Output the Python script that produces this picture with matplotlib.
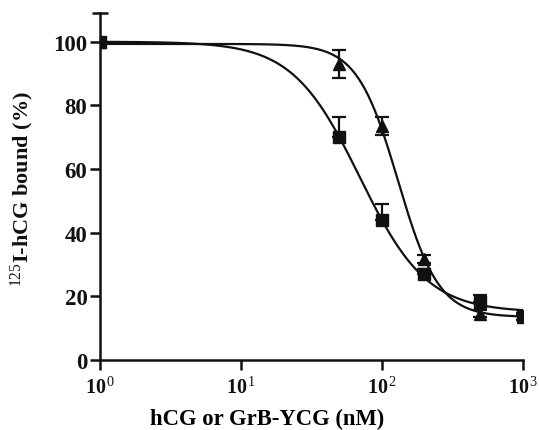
import numpy as np
import matplotlib
matplotlib.use("Agg")
import matplotlib.pyplot as plt
from matplotlib.ticker import FixedLocator, NullFormatter

plt.rcParams['font.family'] = ['Liberation Serif', 'DejaVu Serif']
plt.rcParams['mathtext.fontset'] = 'custom'
plt.rcParams['mathtext.rm'] = 'Liberation Serif'
plt.rcParams['mathtext.bf'] = 'Liberation Serif:bold'
plt.rcParams['mathtext.it'] = 'Liberation Serif:italic'

# concentrations (nM)
conc = [1, 50, 100, 200, 500, 1000]
# hCG (squares)
sq_vals = [100, 70, 44, 27, 18.3, 13.9]
sq_err = [0, 6.3, 5.0, 1.5, 2.2, 1.0]
# GrB-YCG (triangles)
tri_vals = [100, 93, 73.5, 31.7, 14.6, 13.5]
tri_err = [0, 4.5, 2.8, 1.2, 1.0, 0.8]

# four-parameter logistic fit parameters
sq_fit = dict(top=100.0, bottom=15.0, ic50=69.6, hill=1.82)
tri_fit = dict(top=99.3, bottom=13.5, ic50=130.0, hill=3.0)

xticks = [1, 10, 100, 1000]
xticklabels = [r'$\mathbf{10}^{\,0}$', r'$\mathbf{10}^{\,1}$', r'$\mathbf{10}^{\,2}$', r'$\mathbf{10}^{\,3}$']
yticks = [0, 20, 40, 60, 80, 100]


def logistic(x, top, bottom, ic50, hill):
    return bottom + (top - bottom) / (1 + (x / ic50) ** hill)


fig = plt.figure(figsize=(5.39, 4.31), dpi=100)
ax = fig.add_axes([0.1855, 0.1624, 0.7845, 0.805])

xs = np.logspace(0, 3, 400)
ax.plot(xs, logistic(xs, **sq_fit), color='#111111', lw=1.6, zorder=2)
ax.plot(xs, logistic(xs, **tri_fit), color='#111111', lw=1.6, zorder=2)

ax.errorbar(conc, sq_vals, yerr=[np.zeros(len(sq_err)), sq_err], fmt='s', color='#111111',
            ms=8, capsize=5, capthick=1.6, elinewidth=1.6, zorder=3)
ax.errorbar(conc, tri_vals, yerr=tri_err, fmt='^', color='#111111',
            ms=8.5, capsize=5, capthick=1.6, elinewidth=1.6, zorder=3)

ax.set_xscale('log')
ax.set_xlim(1, 1000)
ax.set_ylim(0, 109)
ax.set_xticks(xticks)
ax.set_xticklabels(xticklabels)
ax.xaxis.set_minor_locator(FixedLocator([]))
ax.set_yticks(yticks)
ax.set_yticklabels([str(v) for v in yticks], fontweight='bold')
ax.yaxis.set_minor_locator(FixedLocator([109]))
ax.yaxis.set_minor_formatter(NullFormatter())

for s in ['top', 'right']:
    ax.spines[s].set_visible(False)
for s in ['left', 'bottom']:
    ax.spines[s].set_linewidth(1.8)
    ax.spines[s].set_color('#111111')

ax.tick_params(axis='both', which='major', direction='out', length=7, width=1.8,
               colors='#111111')
ax.tick_params(axis='y', which='major', labelsize=16.5, pad=2)
ax.tick_params(axis='y', which='minor', direction='inout', length=12, width=1.8, color='#111111')
ax.tick_params(axis='x', which='major', labelsize=14.5, pad=5)

ax.set_xlabel('hCG or GrB-YCG (nM)', fontsize=16.3, fontweight='bold')
ax.xaxis.set_label_coords(0.395, -0.138)
fig.text(0.042, 0.562, r'$^{125}$I-hCG bound (%)', fontsize=16, fontweight='bold',
         rotation=90, ha='center', va='center', color='#111111')

fig.savefig('out.png', dpi=100)
